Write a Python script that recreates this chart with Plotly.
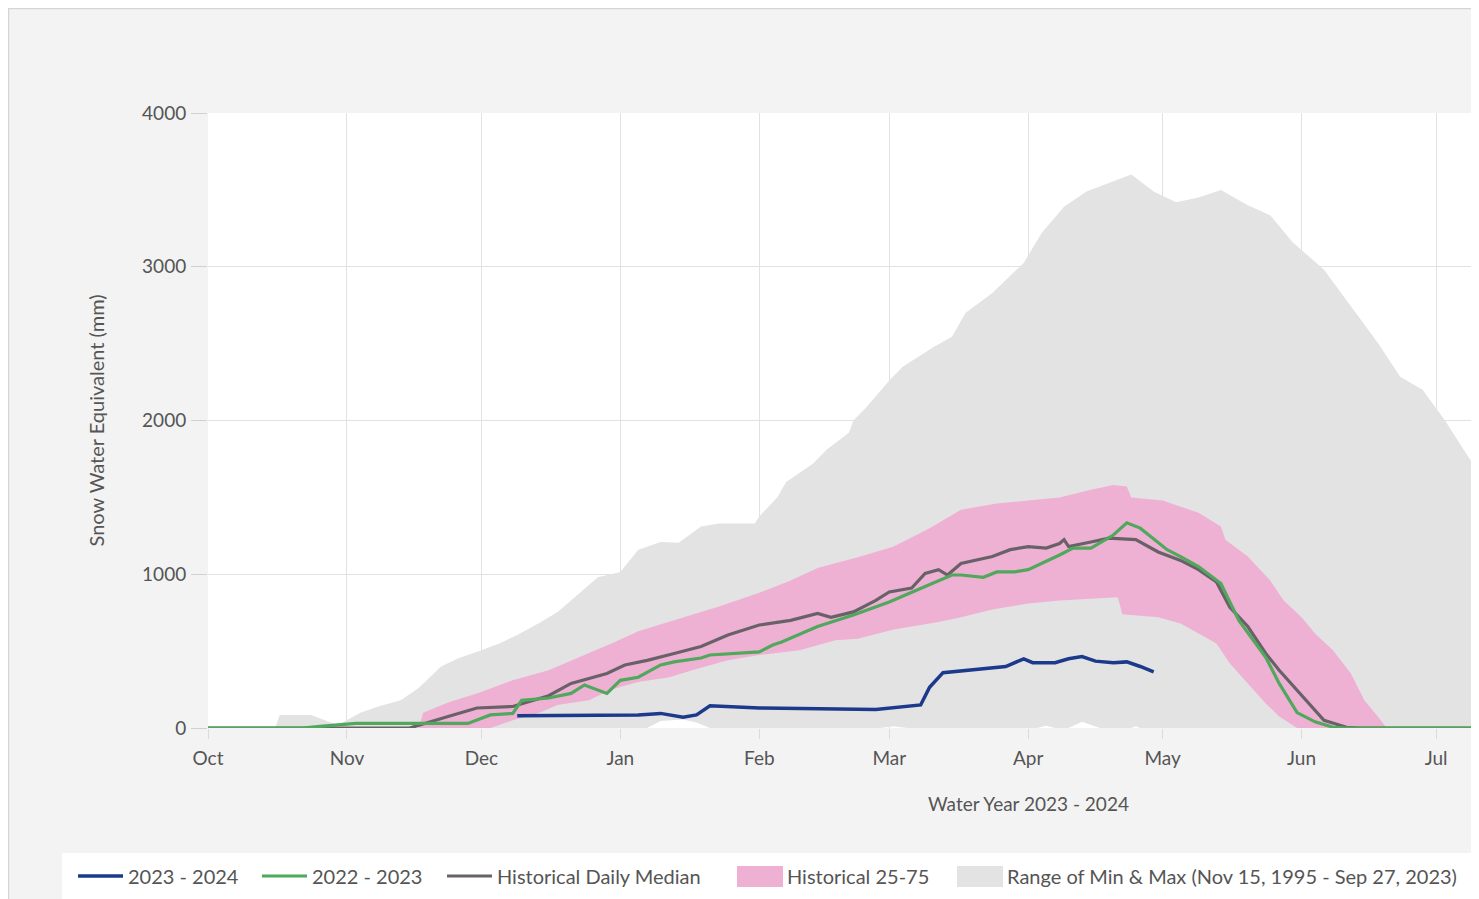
import plotly.graph_objects as go
import pandas as pd

# ---------------- data ----------------
max_dates = ["2023-10-01","2023-10-16","2023-10-17","2023-10-24","2023-10-28","2023-10-30","2023-11-04","2023-11-08","2023-11-13","2023-11-17","2023-11-22","2023-11-26","2023-12-01","2023-12-05","2023-12-09","2023-12-14","2023-12-18","2023-12-23","2023-12-27","2024-01-01","2024-01-05","2024-01-10","2024-01-14","2024-01-19","2024-01-23","2024-01-31","2024-02-01","2024-02-05","2024-02-07","2024-02-11","2024-02-13","2024-02-16","2024-02-21","2024-02-22","2024-02-25","2024-03-01","2024-03-04","2024-03-11","2024-03-15","2024-03-18","2024-03-24","2024-03-31","2024-04-04","2024-04-09","2024-04-14","2024-04-24","2024-04-29","2024-05-04","2024-05-09","2024-05-14","2024-05-20","2024-05-25","2024-05-30","2024-06-06","2024-06-13","2024-06-18","2024-06-23","2024-06-28","2024-07-03","2024-07-10","2024-07-12"]
max_vals = [0,0,85,85,40,20,100,140,180,260,400,455,505,550,605,685,755,880,980,1015,1160,1210,1205,1310,1330,1330,1375,1500,1600,1680,1720,1810,1920,2000,2090,2260,2350,2480,2545,2700,2830,3025,3220,3390,3490,3600,3490,3420,3450,3500,3400,3335,3160,2980,2700,2505,2285,2200,2000,1680,1590]

min_dates = ["2023-10-01","2024-01-07","2024-01-10","2024-01-15","2024-01-18","2024-01-21","2024-02-28","2024-03-02","2024-03-05","2024-04-03","2024-04-05","2024-04-07","2024-04-10","2024-04-13","2024-04-17","2024-04-24","2024-04-25","2024-04-26","2024-07-12"]
min_vals = [0,0,45,55,35,0,0,12,0,0,15,0,0,40,0,0,12,0,0]

p75_dates = ["2023-10-01","2023-11-17","2023-11-18","2023-11-24","2023-11-30","2023-12-08","2023-12-16","2023-12-23","2023-12-30","2024-01-05","2024-01-14","2024-01-23","2024-02-01","2024-02-08","2024-02-14","2024-02-23","2024-03-02","2024-03-10","2024-03-17","2024-03-25","2024-04-01","2024-04-08","2024-04-15","2024-04-20","2024-04-23","2024-04-24","2024-05-01","2024-05-09","2024-05-14","2024-05-15","2024-05-20","2024-05-25","2024-05-28","2024-06-01","2024-06-04","2024-06-08","2024-06-12","2024-06-15","2024-06-18","2024-06-20","2024-07-12"]
p75_vals = [0,0,100,170,225,310,375,460,550,630,710,790,880,960,1040,1110,1180,1300,1420,1460,1480,1500,1550,1580,1570,1500,1480,1400,1310,1225,1115,960,830,720,615,505,355,180,75,0,0]

p25_dates = ["2023-10-01","2023-12-03","2023-12-08","2023-12-14","2023-12-18","2023-12-25","2023-12-30","2024-01-05","2024-01-12","2024-01-17","2024-01-25","2024-02-01","2024-02-10","2024-02-18","2024-02-23","2024-03-02","2024-03-12","2024-03-17","2024-03-24","2024-04-01","2024-04-08","2024-04-21","2024-04-22","2024-04-30","2024-05-05","2024-05-09","2024-05-13","2024-05-16","2024-05-20","2024-05-24","2024-05-27","2024-05-31","2024-07-12"]
p25_vals = [0,0,50,100,150,180,250,300,330,375,440,475,505,570,580,640,690,720,770,810,830,850,740,720,680,615,550,420,290,160,75,0,0]

median_dates = ["2023-10-01","2023-11-15","2023-11-23","2023-11-30","2023-12-08","2023-12-16","2023-12-21","2023-12-29","2024-01-02","2024-01-07","2024-01-13","2024-01-19","2024-01-25","2024-02-01","2024-02-08","2024-02-14","2024-02-17","2024-02-22","2024-02-27","2024-03-01","2024-03-06","2024-03-09","2024-03-12","2024-03-14","2024-03-17","2024-03-24","2024-03-28","2024-04-01","2024-04-05","2024-04-08","2024-04-09","2024-04-10","2024-04-15","2024-04-19","2024-04-25","2024-04-30","2024-05-05","2024-05-09","2024-05-13","2024-05-16","2024-05-20","2024-05-24","2024-05-27","2024-05-31","2024-06-04","2024-06-06","2024-06-11","2024-06-14","2024-07-12"]
median_vals = [0,0,70,130,140,210,290,355,410,440,485,530,605,670,700,745,720,755,830,885,910,1005,1030,995,1070,1115,1160,1180,1170,1200,1225,1180,1210,1235,1225,1145,1090,1030,950,785,660,485,375,245,115,50,5,0,0]

green_dates = ["2023-10-01","2023-10-22","2023-10-26","2023-11-03","2023-11-28","2023-12-03","2023-12-08","2023-12-10","2023-12-16","2023-12-21","2023-12-24","2023-12-29","2024-01-01","2024-01-05","2024-01-10","2024-01-13","2024-01-19","2024-01-21","2024-02-01","2024-02-04","2024-02-06","2024-02-14","2024-02-22","2024-03-01","2024-03-09","2024-03-15","2024-03-17","2024-03-22","2024-03-25","2024-03-29","2024-04-01","2024-04-04","2024-04-08","2024-04-11","2024-04-15","2024-04-20","2024-04-23","2024-04-26","2024-04-30","2024-05-02","2024-05-05","2024-05-09","2024-05-14","2024-05-18","2024-05-24","2024-05-27","2024-05-31","2024-06-04","2024-06-08","2024-06-11","2024-07-12"]
green_vals = [0,0,10,30,30,85,95,180,195,225,280,225,310,330,410,430,455,475,495,540,560,660,735,820,920,995,995,980,1015,1015,1030,1070,1125,1170,1170,1255,1335,1300,1210,1160,1115,1050,940,700,460,290,100,40,5,0,0]

blue_dates = ["2023-12-09","2024-01-05","2024-01-10","2024-01-15","2024-01-18","2024-01-21","2024-02-01","2024-02-14","2024-02-27","2024-03-08","2024-03-10","2024-03-13","2024-03-25","2024-03-27","2024-03-31","2024-04-02","2024-04-07","2024-04-10","2024-04-13","2024-04-16","2024-04-20","2024-04-23","2024-04-26","2024-04-29"]
blue_vals = [80,85,95,70,85,145,130,125,120,150,265,360,390,400,450,425,425,450,465,435,425,430,400,365]

month_ticks = ["2023-10-01","2023-11-01","2023-12-01","2024-01-01","2024-02-01","2024-03-01","2024-04-01","2024-05-01","2024-06-01","2024-07-01"]
month_labels = ["Oct","Nov","Dec","Jan","Feb","Mar","Apr","May","Jun","Jul"]
y_ticks = [0, 1000, 2000, 3000, 4000]

series_names = ["2023 - 2024", "2022 - 2023", "Historical Daily Median", "Historical 25-75",
                "Range of Min & Max (Nov 15, 1995 - Sep 27, 2023)"]

# ---------------- style ----------------
OFF = 8                      # page offset of the plot div (body margin)
W, H = 1479 - OFF, 899 - OFF
ML, MR, MT, MB = 208 - OFF, 0, 113 - OFF, H - (728 - OFF)
PW, PH = W - ML - MR, H - MT - MB
FONT = "Lato, 'Open Sans', sans-serif"
TXT = "#555555"
C_BLUE = "#1b3a8c"
C_GREEN = "#4fa85c"
C_MED = "#686268"
C_PINK = "#efb1d3"
C_GRAY = "#e3e3e3"


def px_x(p):  # page pixel -> paper x
    return (p - OFF - ML) / PW


def px_y(p):  # page pixel -> paper y
    return (H - MB - (p - OFF)) / PH


d = pd.to_datetime
fig = go.Figure()

# range of min & max
fig.add_trace(go.Scatter(x=d(min_dates), y=min_vals, mode="lines", line=dict(width=0, color=C_GRAY),
                         showlegend=False, hoverinfo="skip"))
fig.add_trace(go.Scatter(x=d(max_dates), y=max_vals, mode="lines", line=dict(width=0, color=C_GRAY),
                         fill="tonexty", fillcolor=C_GRAY, showlegend=False, hoverinfo="skip"))
# historical 25-75
fig.add_trace(go.Scatter(x=d(p25_dates), y=p25_vals, mode="lines", line=dict(width=0, color=C_PINK),
                         showlegend=False, hoverinfo="skip"))
fig.add_trace(go.Scatter(x=d(p75_dates), y=p75_vals, mode="lines", line=dict(width=0, color=C_PINK),
                         fill="tonexty", fillcolor=C_PINK, showlegend=False, hoverinfo="skip"))
# lines
fig.add_trace(go.Scatter(x=d(median_dates), y=median_vals, mode="lines", name=series_names[2],
                         line=dict(width=3.2, color=C_MED), legend="legend3"))
fig.add_trace(go.Scatter(x=d(green_dates), y=green_vals, mode="lines", name=series_names[1],
                         line=dict(width=3.2, color=C_GREEN), legend="legend2"))
fig.add_trace(go.Scatter(x=d(blue_dates), y=blue_vals, mode="lines", name=series_names[0],
                         line=dict(width=3.5, color=C_BLUE), legend="legend"))
# legend-only entries for the filled bands
fig.add_trace(go.Scatter(x=[None], y=[None], mode="lines", name=series_names[3],
                         line=dict(width=20, color=C_PINK), legend="legend4"))
fig.add_trace(go.Scatter(x=[None], y=[None], mode="lines", name=series_names[4],
                         line=dict(width=20, color=C_GRAY), legend="legend5"))

legend_starts = [73, 257, 442, 732, 952]   # page px of each legend block
legend_keys = ["legend", "legend2", "legend3", "legend4", "legend5"]
legends = {}
for key, lx in zip(legend_keys, legend_starts):
    legends[key] = dict(orientation="h", x=px_x(lx), xanchor="left", y=px_y(876), yanchor="middle",
                        bgcolor="rgba(0,0,0,0)", borderwidth=0, itemwidth=45,
                        font=dict(size=20, color=TXT, family=FONT))

# full-size swatch boxes behind the band legend entries
swatches = []
for lx, col in [(legend_starts[3], C_PINK), (legend_starts[4], C_GRAY)]:
    swatches.append(dict(type="rect", xref="paper", yref="paper", x0=px_x(lx + 5), x1=px_x(lx + 51),
                         y0=px_y(887), y1=px_y(866), line=dict(width=0), fillcolor=col, layer="above"))

fig.update_layout(
    width=W, height=H,
    margin=dict(l=ML, r=MR, t=MT, b=MB, autoexpand=False),
    paper_bgcolor="#f3f3f3",
    plot_bgcolor="#ffffff",
    font=dict(family=FONT, size=19, color=TXT),
    showlegend=True,
    xaxis=dict(type="date", range=[d("2023-10-01"), d("2024-07-10 14:00")],
               tickvals=d(month_ticks), ticktext=month_labels,
               showgrid=True, gridcolor="#e2e2e2", gridwidth=1,
               ticks="outside", ticklen=10, tickcolor="#dcdcdc", ticklabelstandoff=3,
               showline=False, zeroline=False, fixedrange=True,
               tickfont=dict(size=19, color=TXT)),
    yaxis=dict(range=[0, 4000], tickvals=y_ticks, showgrid=True, gridcolor="#e2e2e2", gridwidth=1,
               ticks="outside", ticklen=16, tickcolor="#d0d0d0", ticklabelstandoff=1,
               showline=False, zeroline=False, fixedrange=True,
               tickfont=dict(size=19, color=TXT)),
    shapes=[
        dict(type="rect", xref="paper", yref="paper", x0=px_x(OFF + 0.5), x1=px_x(1479 + 20),
             y0=px_y(899 + 20), y1=px_y(OFF + 0.5), line=dict(color="#d5d5d5", width=1.5),
             fillcolor="rgba(0,0,0,0)", layer="below"),
        dict(type="rect", xref="paper", yref="paper", x0=px_x(62), x1=px_x(1479 + 20),
             y0=px_y(899 + 20), y1=px_y(853), line=dict(width=0),
             fillcolor="#ffffff", layer="below"),
    ] + swatches,
    annotations=[
        dict(text="Water Year 2023 - 2024", xref="paper", yref="paper", x=px_x(1028), y=px_y(803),
             xanchor="center", yanchor="middle", showarrow=False, font=dict(size=19, color=TXT)),
        dict(text="Snow Water Equivalent (mm)", xref="paper", yref="paper", x=px_x(95), y=0.5,
             xanchor="center", yanchor="middle", textangle=-90, showarrow=False,
             font=dict(size=20, color=TXT)),
    ],
    **legends,
)

fig.write_html("out.html")
